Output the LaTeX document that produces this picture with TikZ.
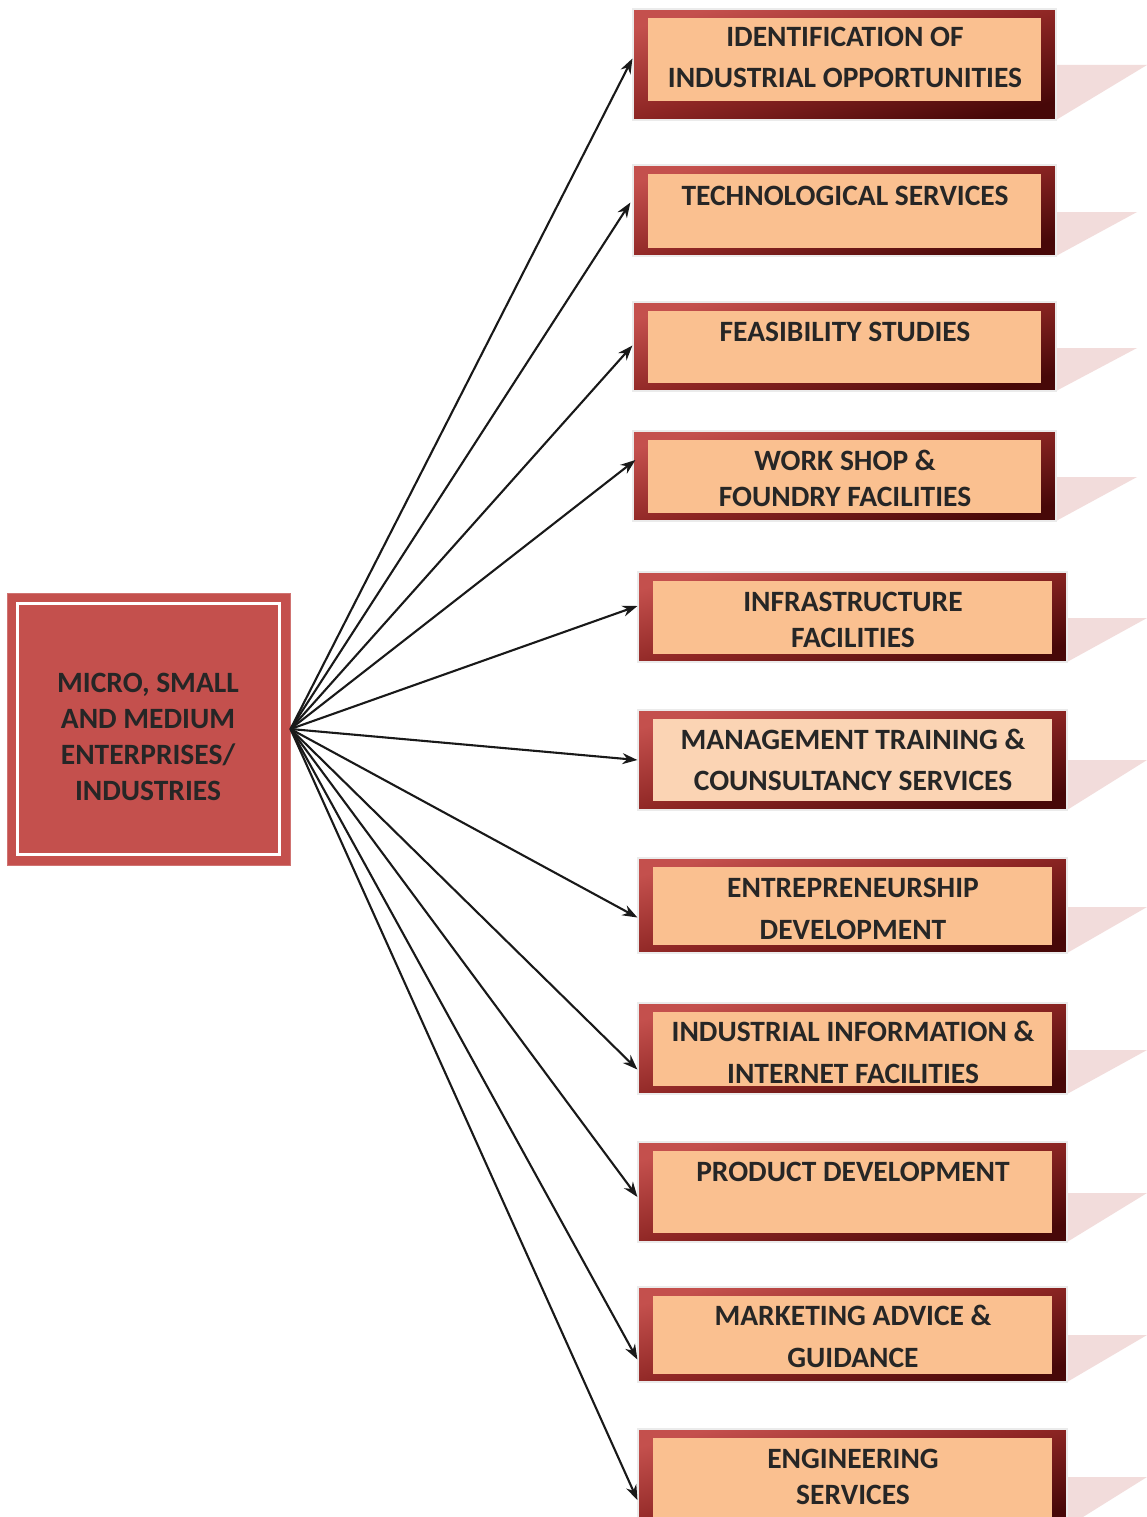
\documentclass[tikz,border=0pt]{standalone}
\usepackage{fontspec}
\setmainfont{Carlito}
\usetikzlibrary{arrows.meta,fit}
\definecolor{boxred}{HTML}{C4504D}
\definecolor{boxdark}{HTML}{470808}
\definecolor{boxmid}{HTML}{8E2624}
\definecolor{peach}{HTML}{FAC090}
\definecolor{peachlight}{HTML}{FBD4B4}
\definecolor{shadowpink}{HTML}{F2DCDB}
\definecolor{txt}{HTML}{262626}
\tikzset{
  outerbox/.style={draw=black!8, line width=1.2pt, top color=boxred, bottom color=boxdark, middle color=boxmid, shading angle=14, inner sep=0pt},
  innerbox/.style={inner sep=0pt, draw=none},
  lbl/.style={font=\bfseries\fontsize{29.5}{34}\selectfont, text=txt, anchor=base, inner sep=0pt},
  conn/.style={line width=2.1pt, black!90, -{Stealth[length=15pt,width=11pt]}},
  centerbox/.style={fill=boxred, draw=boxred!80!white, line width=1pt, inner sep=0pt},
}
% #1 name, #2 x1, #3 y1, #4 x2, #5 y2, #6 shadow top y, #7 shadow right x, #8 inner colour, #9 bottom inset
\newcommand\ServBox[9]{%
  \fill[shadowpink] (#4,-#6) -- (#7,-#6) -- (#4,-#5) -- cycle;
  \coordinate (#1nw) at (#2,-#3);
  \coordinate (#1se) at (#4,-#5);
  \node[outerbox, fit=(#1nw)(#1se)] (#1) {};
  \coordinate (#1inw) at ([shift={(16,-10)}]#1.north west);
  \coordinate (#1ise) at ([shift={(-16,#9)}]#1.south east);
  \node[innerbox, fill=#8, fit=(#1inw)(#1ise)] (#1in) {};
}
\begin{document}
\begin{tikzpicture}[x=1pt,y=1pt]
\useasboundingbox (0,0) rectangle (1147,-1517);
\clip (0,0) rectangle (1147,-1517);
\fill[white] (0,0) rectangle (1147,-1517);

% centre box
\coordinate (cnw) at (7,-593);
\coordinate (cse) at (290,-865);
\node[centerbox, fit=(cnw)(cse)] (c) {};
\draw[white, line width=3pt] ([shift={(11,-11)}]c.north west) rectangle ([shift={(-11,11)}]c.south east);
\node[lbl] (c1) at (148,-692) {MICRO, SMALL};
\node[lbl] (c2) at (148,-728) {AND MEDIUM};
\node[lbl] (c3) at (148,-764) {ENTERPRISES/};
\node[lbl] (c4) at (148,-800) {INDUSTRIES};

% service boxes
\ServBox{b1}{633}{9}{1056}{120}{65}{1147}{peach}{20}
\ServBox{b2}{633}{165}{1056}{256}{212}{1137}{peach}{9}
\ServBox{b3}{633}{302}{1056}{391}{348}{1137}{peach}{9}
\ServBox{b4}{633}{431}{1056}{521}{477}{1137}{peach}{9}
\ServBox{b5}{638}{572}{1067}{662}{618}{1147}{peach}{9}
\ServBox{b6}{638}{710}{1067}{810}{760}{1147}{peachlight}{10}
\ServBox{b7}{638}{858}{1067}{953}{907}{1147}{peach}{9}
\ServBox{b8}{638}{1003}{1067}{1094}{1050}{1147}{peach}{9}
\ServBox{b9}{638}{1142}{1067}{1242}{1193}{1147}{peach}{10}
\ServBox{b10}{638}{1287}{1067}{1382}{1335}{1147}{peach}{9}
\ServBox{b11}{638}{1429}{1067}{1527}{1477}{1147}{peach}{9}

% labels
\node[lbl] (t1a) at (845,-47) {IDENTIFICATION OF};
\node[lbl] (t1b) at (845,-88) {INDUSTRIAL OPPORTUNITIES};
\node[lbl] (t2a) at (845,-205) {TECHNOLOGICAL SERVICES};
\node[lbl] (t3a) at (845,-341) {FEASIBILITY STUDIES};
\node[lbl] (t4a) at (845,-470) {WORK SHOP \&};
\node[lbl] (t4b) at (845,-506) {FOUNDRY FACILITIES};
\node[lbl] (t5a) at (853,-611) {INFRASTRUCTURE};
\node[lbl] (t5b) at (853,-647) {FACILITIES};
\node[lbl] (t6a) at (853,-749) {MANAGEMENT TRAINING \&};
\node[lbl] (t6b) at (853,-790) {COUNSULTANCY SERVICES};
\node[lbl] (t7a) at (853,-897) {ENTREPRENEURSHIP};
\node[lbl] (t7b) at (853,-939) {DEVELOPMENT};
\node[lbl] (t8a) at (853,-1041) {INDUSTRIAL INFORMATION \&};
\node[lbl] (t8b) at (853,-1083) {INTERNET FACILITIES};
\node[lbl] (t9a) at (853,-1181) {PRODUCT DEVELOPMENT};
\node[lbl] (t10a) at (853,-1325) {MARKETING ADVICE \&};
\node[lbl] (t10b) at (853,-1367) {GUIDANCE};
\node[lbl] (t11a) at (853,-1468) {ENGINEERING};
\node[lbl] (t11b) at (853,-1504) {SERVICES};

% connectors
\draw[conn] (c.east) -- ([yshift=6]b1.west);
\draw[conn] (c.east) -- ([yshift=8, xshift=-2]b2.west);
\draw[conn] (c.east) -- ([yshift=1]b3.west);
\draw[conn] (c.east) -- ([yshift=16, xshift=3]b4.west);
\draw[conn] (c.east) -- ([yshift=11]b5.west);
\draw[conn] (c.east) -- (b6.west);
\draw[conn] (c.east) -- ([yshift=-12]b7.west);
\draw[conn] (c.east) -- ([yshift=-21]b8.west);
\draw[conn] (c.east) -- ([yshift=-5]b9.west);
\draw[conn] (c.east) -- ([yshift=-25]b10.west);
\draw[conn] (c.east) -- ([yshift=-22]b11.west);
\end{tikzpicture}
\end{document}
